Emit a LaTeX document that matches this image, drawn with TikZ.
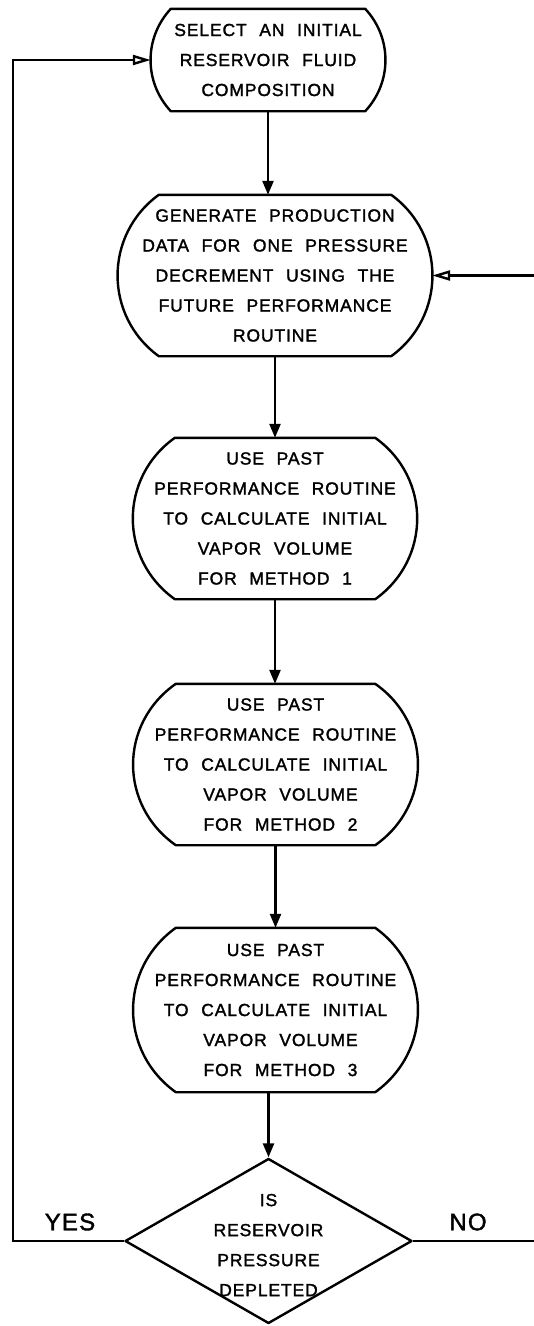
\documentclass[tikz,border=0pt]{standalone}
\usepackage{fontspec}
\setmainfont{Liberation Sans}[LetterSpace=5,WordSpace=2.2,FakeBold=1.6]
\usetikzlibrary{arrows.meta,shapes.geometric,calc}
\newcommand\barrel[4]{%
  \draw[outline] ([xshift=#2]#1.north west) -- ([xshift=-#2]#1.north east)
    .. controls +(#3,#4) and +(#3,-#4) .. ([xshift=-#2]#1.south east)
    -- ([xshift=#2]#1.south west)
    .. controls +(-#3,-#4) and +(-#3,#4) .. ([xshift=#2]#1.north west) -- cycle;}
\tikzset{
  outline/.style={line width=2.4pt, line join=round},
  proc/.style={rectangle, inner sep=0pt, align=center,
    font=\fontsize{17.5}{30}\selectfont},
  qtext/.style={inner sep=0pt, align=center, font=\fontsize{17.5}{30}\selectfont},
  lab/.style={inner sep=0pt, font=\fontsize{24}{28}\selectfont},
  flow/.style={line width=2.4pt, -{Triangle[length=14pt,width=11pt]}},
  back/.style={line width=2.4pt, -{Triangle[open,length=18pt,width=10pt]}},
  decision/.style={diamond, draw, outline, inner sep=0pt,
    minimum width=287pt, minimum height=165pt}
}
\begin{document}
\begin{tikzpicture}[x=1pt,y=-1pt]
\useasboundingbox (0,0) rectangle (534,1326);
\clip (0,0) rectangle (534,1326);

\node[proc, minimum width=234pt, minimum height=102pt] (b1) at (268,60)
  {SELECT AN INITIAL\\RESERVOIR FLUID\\COMPOSITION};
\barrel{b1}{20}{27}{29}

\node[proc, minimum width=314pt, minimum height=161pt] (b2) at (275,275.5)
  {GENERATE PRODUCTION\\DATA FOR ONE PRESSURE\\DECREMENT USING THE\\FUTURE PERFORMANCE\\ROUTINE};
\barrel{b2}{41}{55}{40}

\node[proc, minimum width=284pt, minimum height=161pt] (b3) at (275,518.5)
  {USE PAST\\PERFORMANCE ROUTINE\\TO CALCULATE INITIAL\\VAPOR VOLUME\\FOR METHOD 1};
\barrel{b3}{42}{56}{40}

\node[proc, minimum width=285pt, minimum height=161pt] (b4) at (275.5,764.5)
  {USE PAST\\PERFORMANCE ROUTINE\\TO CALCULATE INITIAL\\\hspace*{10pt}VAPOR VOLUME\\\hspace*{10pt}FOR METHOD 2};
\barrel{b4}{43}{57}{40}

\node[proc, minimum width=285pt, minimum height=164pt] (b5) at (275.5,1010)
  {USE PAST\\PERFORMANCE ROUTINE\\TO CALCULATE INITIAL\\\hspace*{10pt}VAPOR VOLUME\\\hspace*{10pt}FOR METHOD 3};
\barrel{b5}{43}{57}{41}

\node[decision] (d) at (268.5,1241) {};
\node[qtext] (dq) at (268.5,1245) {IS\\RESERVOIR\\PRESSURE\\DEPLETED};

\node[lab] (yes) at (70,1222) {YES};
\node[lab] (no) at (468,1222) {NO};

\coordinate (lft) at (13,0);
\coordinate (rgt) at (545,0);

\draw[flow] (b1.south) -- (b1.south |- b2.north);
\draw[flow] (b2.south) -- (b2.south |- b3.north);
\draw[flow] (b3.south) -- (b3.south |- b4.north);
\draw[flow] (b4.south) -- (b4.south |- b5.north);
\draw[flow] (b5.south -| d.north) -- (d.north);
\draw[back] (d.west) -- (d.west -| lft) |- (b1.west);
\draw[back] (d.east) -- (d.east -| rgt) |- (b2.east);
\end{tikzpicture}
\end{document}
